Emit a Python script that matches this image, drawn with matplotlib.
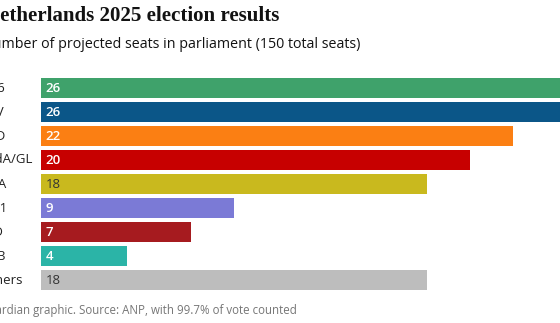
import matplotlib.pyplot as plt

parties = ["D66", "PVV", "VVD", "PvdA/GL", "CDA", "JA21", "FvD", "BBB", "Others"]
seats = [26, 26, 22, 20, 18, 9, 7, 4, 18]
colors = ["#3fa26b", "#0b5688", "#fb7f13", "#c70000", "#c9b91e",
          "#7b7ad6", "#a61b1f", "#2bb4a7", "#bdbdbd"]
text_colors = ["white", "white", "white", "white", "#333333",
               "white", "white", "white", "#333333"]

W, H = 560, 323
fig = plt.figure(figsize=(W / 100, H / 100), dpi=100)
fig.patch.set_facecolor("white")

# bar area runs off the right edge, the text block starts left of the canvas
ax = fig.add_axes([41 / W, (H - 292) / H, 1 - 41 / W, 216 / H])
ax.set_xlim(0, 519 / 21.45)
ax.set_ylim(len(parties) - 0.5, -0.5)
ax.axis("off")

ypos = list(range(len(parties)))
ax.barh(ypos, seats, height=0.81, color=colors)

for y, v, tc in zip(ypos, seats, text_colors):
    ax.text(0.22, y + 0.04, str(v), ha="left", va="center", color=tc,
            fontsize=9.5, fontfamily="Open Sans",
            fontweight="semibold" if tc == "white" else "normal")

for y, name in zip(ypos, parties):
    fig.text(-19.5 / W, 1 - (88 + 24 * y) / H, name, ha="left", va="center",
             fontsize=9.5, fontfamily="Open Sans", color="#222222")

fig.text(-15 / W, 1 - 21 / H, "Netherlands 2025 election results",
         ha="left", va="baseline", fontsize=15.1, fontfamily="Liberation Serif",
         fontweight="bold", color="#121212")
fig.text(-18 / W, 1 - 48 / H,
         "Number of projected seats in parliament (150 total seats)",
         ha="left", va="baseline", fontsize=10.3, fontfamily="Open Sans",
         color="#121212")
fig.text(-20 / W, 1 - 314 / H,
         "Guardian graphic. Source: ANP, with 99.7% of vote counted",
         ha="left", va="baseline", fontsize=8.3, fontfamily="Open Sans",
         color="#767676")

fig.savefig("out.png", dpi=100)
